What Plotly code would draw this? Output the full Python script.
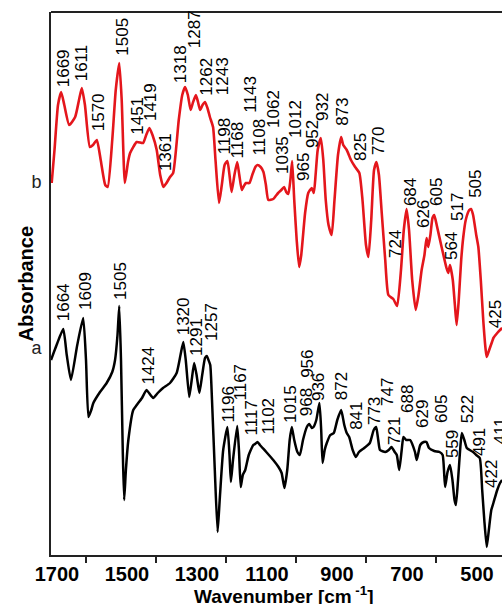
import plotly.graph_objects as go

# FTIR spectra (wavenumber in cm-1, absorbance in arbitrary offset units)
wn_b = [1698, 1690, 1680, 1671, 1662, 1648, 1631, 1620, 1612, 1603, 1589, 1580, 1569, 1558,
        1545, 1538, 1525, 1515, 1505, 1498, 1489, 1480, 1474, 1455, 1437, 1428, 1419, 1410,
        1398, 1388, 1379, 1370, 1360, 1351, 1335, 1325, 1317, 1309, 1301, 1294, 1286, 1280,
        1274, 1267, 1260, 1253, 1246, 1237, 1230, 1220, 1212, 1204, 1196, 1190, 1184, 1176,
        1168, 1162, 1155, 1149, 1143, 1133, 1125, 1116, 1110, 1101, 1093, 1086, 1079, 1065,
        1058, 1051, 1042, 1034, 1028, 1022, 1016, 1011, 1005, 998, 991, 985, 974, 965, 960,
        955, 949, 944, 938, 929, 922, 915, 907, 898, 890, 880, 871, 865, 855, 843, 831, 819,
        810, 800, 793, 785, 777, 770, 763, 755, 745, 736, 722, 711, 700, 692, 684, 677, 668,
        658, 650, 641, 633, 627, 622, 616, 610, 605, 598, 584, 570, 565, 560, 552, 546, 541,
        535, 528, 522, 515, 505, 500, 494, 485, 479, 472, 465, 458, 455, 448, 440, 436, 425,
        417, 411]
abs_b = [3.72, 4.05, 4.50, 4.63, 4.50, 4.30, 4.38, 4.55, 4.67, 4.50, 4.08, 4.10, 4.15, 3.95,
         3.70, 3.68, 4.15, 4.65, 4.92, 4.55, 3.72, 3.93, 4.02, 4.13, 4.12, 4.20, 4.27, 4.20,
         4.05, 3.80, 3.68, 3.72, 3.78, 3.82, 4.35, 4.60, 4.68, 4.60, 4.45, 4.53, 4.60, 4.53,
         4.45, 4.50, 4.53, 4.47, 4.38, 4.28, 3.95, 3.52, 3.70, 3.90, 3.94, 3.80, 3.63, 3.80,
         3.93, 3.80, 3.65, 3.69, 3.72, 3.72, 3.80, 3.88, 3.90, 3.88, 3.83, 3.70, 3.55, 3.56,
         3.59, 3.62, 3.65, 3.68, 3.63, 3.61, 3.75, 3.94, 3.55, 3.15, 2.88, 3.00, 3.42, 3.62, 3.65,
         3.67, 3.62, 3.80, 4.05, 4.17, 3.95, 3.55, 3.30, 3.20, 3.55, 4.00, 4.18, 4.10, 4.05, 3.95,
         3.88, 3.82, 3.55, 3.10, 2.98, 3.35, 3.85, 3.93, 3.80, 3.42, 2.95, 2.60, 2.56, 2.49, 2.85,
         3.25, 3.46, 3.25, 2.75, 2.45, 2.60, 2.85, 3.00, 3.17, 3.08, 3.20, 3.37, 3.40, 3.30, 3.08,
         2.87, 2.82, 2.90, 2.75, 2.50, 2.30, 2.55, 2.95, 3.18, 3.35, 3.45, 3.46, 3.40, 3.20, 3.08,
         2.75, 2.35, 2.05, 1.98, 2.05, 2.13, 2.17, 2.22, 2.25, 2.27]

wn_a = [1700, 1684, 1665, 1655, 1643, 1625, 1608, 1600, 1593, 1585, 1579, 1560, 1541, 1525,
        1517, 1510, 1505, 1500, 1495, 1491, 1486, 1479, 1465, 1455, 1440, 1427, 1420, 1408,
        1395, 1380, 1360, 1341, 1330, 1322, 1315, 1305, 1298, 1291, 1284, 1276, 1268, 1260,
        1255, 1250, 1245, 1240, 1232, 1224, 1218, 1208, 1196, 1190, 1186, 1180, 1168, 1163,
        1158, 1152, 1145, 1135, 1122, 1117, 1110, 1103, 1085, 1065, 1050, 1041, 1033, 1025,
        1018, 1012, 1005, 996, 989, 980, 969, 962, 955, 950, 942, 933, 928, 924, 918, 912, 902,
        892, 882, 871, 862, 855, 848, 838, 829, 820, 805, 789, 778, 771, 765, 760, 745, 735, 727,
        718, 712, 705, 698, 693, 685, 674, 660, 655, 645, 635, 627, 620, 605, 590, 581, 574, 567,
        560, 553, 547, 543, 537, 530, 526, 519, 512, 494, 485, 475, 468, 462, 455, 449, 442, 436,
        425, 417, 411]
abs_a = [1.95, 2.10, 2.26, 2.00, 1.75, 2.10, 2.37, 1.95, 1.38, 1.45, 1.52, 1.63, 1.72, 1.83,
         1.95, 2.20, 2.49, 1.95, 1.05, 0.55, 0.85, 1.15, 1.45, 1.50, 1.57, 1.65, 1.62, 1.57,
         1.62, 1.67, 1.72, 1.82, 2.00, 2.13, 1.95, 1.58, 1.75, 1.92, 1.80, 1.62, 1.80, 1.97,
         1.99, 1.95, 1.90, 1.55, 0.85, 0.23, 0.55, 1.05, 1.28, 1.00, 0.73, 0.95, 1.29, 1.05,
         0.68, 0.80, 0.85, 1.00, 1.10, 1.11, 1.13, 1.10, 1.03, 0.95, 0.88, 0.82, 0.67, 0.85,
         1.15, 1.28, 1.15, 1.03, 1.00, 1.15, 1.28, 1.31, 1.27, 1.28, 1.35, 1.52, 1.25, 0.92, 1.05,
         1.12, 1.20, 1.22, 1.35, 1.45, 1.30, 1.22, 1.18, 1.05, 0.98, 1.03, 1.07, 1.12, 1.25, 1.28,
         1.15, 1.05, 1.03, 1.05, 1.08, 1.03, 1.00, 0.85, 1.05, 1.18, 1.15, 1.15, 1.03, 0.95, 1.10,
         1.13, 1.13, 1.07, 1.04, 1.03, 1.00, 0.68, 0.83, 0.90, 0.75, 0.55, 0.50, 0.75, 1.10, 1.22,
         1.15, 1.07, 1.03, 1.00, 0.97, 0.65, 0.35, 0.08, 0.25, 0.45, 0.52, 0.65, 0.72, 0.75]

# Peak annotations: text, label position (wavenumber), label base (absorbance)
peaks_b = ["1669", "1611", "1570", "1505", "1451", "1419", "1361", "1318", "1287", "1262",
           "1243", "1198", "1168", "1143", "1108", "1062", "1035", "1012", "965", "952", "932",
           "873", "825", "770", "724", "684", "626", "605", "564", "517", "505", "425", "411"]
peaks_b_x = [1665, 1612, 1565, 1498, 1455, 1417, 1374, 1331, 1291, 1258, 1211, 1203, 1166,
             1131, 1103, 1066, 1040, 1003, 980, 954, 926, 869, 817, 766, 717, 674, 637, 600,
             557, 540, 489, 431, 411]
peaks_b_y = [4.66, 4.72, 4.22, 4.97, 4.18, 4.32, 3.82, 4.70, 5.05, 4.57, 4.58, 3.99, 3.95,
             4.40, 3.98, 4.25, 3.79, 4.15, 3.72, 4.05, 4.32, 4.27, 3.92, 3.98, 2.95, 3.47, 3.25,
             3.47, 2.93, 3.32, 3.55, 2.25, 2.58]

peaks_a = ["1664", "1609", "1505", "1424", "1320", "1291", "1257", "1196", "1167", "1117",
           "1102", "1015", "968", "956", "936", "872", "841", "773", "747", "721", "688", "629",
           "605", "559", "522", "491", "422", "411"]
peaks_a_x = [1665, 1603, 1503, 1424, 1322, 1286, 1243, 1194, 1160, 1126, 1080, 1017, 971, 969,
             937, 871, 829, 777, 740, 720, 683, 640, 586, 554, 511, 477, 443, 417]
peaks_a_y = [2.32, 2.43, 2.53, 1.68, 2.18, 1.97, 2.12, 1.30, 1.52, 1.18, 1.18, 1.30, 1.37, 1.75,
             1.52, 1.53, 1.23, 1.28, 1.47, 1.08, 1.40, 1.25, 1.30, 0.95, 1.30, 0.97, 0.65, 1.08]

trace_labels = ["a", "b"]
trace_label_y = [2.07, 3.73]

x_ticks = [1700, 1500, 1300, 1100, 900, 700, 500]
x_minor = [1600, 1400, 1200, 1000, 800, 600]

FONT = "Liberation Sans, Arial, Helvetica, sans-serif"
RED = "rgb(228,22,28)"

fig = go.Figure()
fig.add_trace(go.Scatter(x=wn_a, y=abs_a, mode="lines",
                         line=dict(color="black", width=2.5, shape="spline", smoothing=0.5),
                         showlegend=False))
fig.add_trace(go.Scatter(x=wn_b, y=abs_b, mode="lines",
                         line=dict(color=RED, width=2.6, shape="spline", smoothing=0.5),
                         showlegend=False))

ann = []
for txt, px, py in zip(peaks_b, peaks_b_x, peaks_b_y):
    ann.append(dict(x=px, y=py, xref="x", yref="y", text=txt, showarrow=False,
                    textangle=-90, xanchor="center", yanchor="bottom",
                    font=dict(family=FONT, size=17, color="black")))
for txt, px, py in zip(peaks_a, peaks_a_x, peaks_a_y):
    ann.append(dict(x=px, y=py, xref="x", yref="y", text=txt, showarrow=False,
                    textangle=-90, xanchor="center", yanchor="bottom",
                    font=dict(family=FONT, size=17, color="black")))

ann.append(dict(x=-0.0576, y=0.5, xref="paper", yref="paper", text="<b>Absorbance</b>",
                showarrow=False, textangle=-90, xanchor="center", yanchor="middle",
                font=dict(family=FONT, size=20, color="black")))
ann.append(dict(x=0.517, y=-0.0737, xref="paper", yref="paper",
                text="<b>Wavenumber [cm<sup> -1</sup>]</b>",
                showarrow=False, xanchor="center", yanchor="middle",
                font=dict(family=FONT, size=19, color="black")))

fig.update_layout(
    width=502, height=604,
    margin=dict(l=51, r=0, t=12, b=49),
    paper_bgcolor="white", plot_bgcolor="white",
    annotations=ann,
    shapes=[dict(type="line", xref="paper", yref="paper", x0=0, x1=1, y0=1, y1=1,
                 line=dict(color="#222", width=2))],
    xaxis=dict(range=[1700, 411.4], tickvals=x_ticks, ticks="", ticklen=0,
               ticklabelshift=-6,
               showline=True, linecolor="#222", linewidth=2, showgrid=False, zeroline=False,
               tickfont=dict(family=FONT, size=20, color="black", weight="bold"),
               minor=dict(tickvals=x_minor, ticks="outside", ticklen=6, tickwidth=1.5,
                          tickcolor="#222", showgrid=False)),
    yaxis=dict(range=[0, 5.43], tickvals=trace_label_y, ticktext=trace_labels, ticks="",
               ticklabelstandoff=4,
               showline=True, linecolor="#222", linewidth=2, showgrid=False, zeroline=False,
               tickfont=dict(family=FONT, size=18, color="#222")),
)

fig.write_html("out.html")
